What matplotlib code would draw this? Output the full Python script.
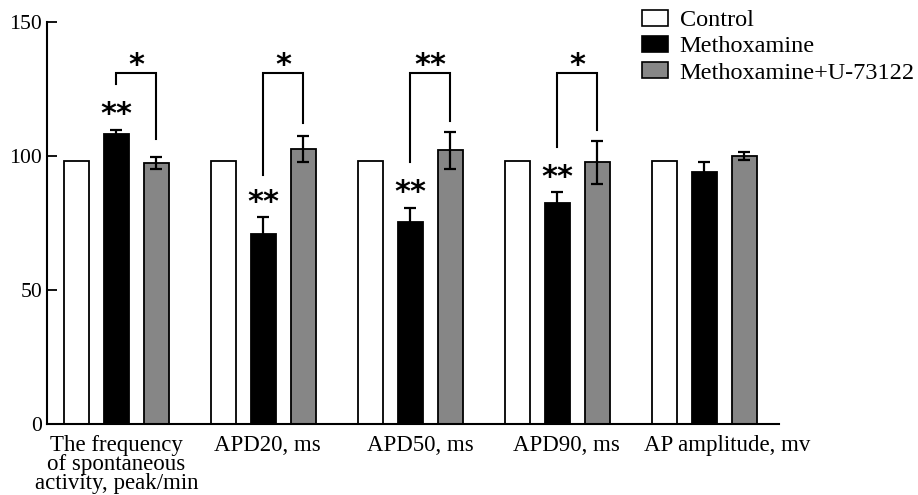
import matplotlib
matplotlib.use("Agg")
import matplotlib.pyplot as plt
from matplotlib.patches import Patch
import numpy as np

plt.rcParams['font.family'] = ['Liberation Serif', 'DejaVu Serif']

categories = ["The frequency\nof spontaneous\nactivity, peak/min", "APD20, ms",
              "APD50, ms", "APD90, ms", "AP amplitude, mv"]
series_names = ["Control", "Methoxamine", "Methoxamine+U-73122"]
control = [98, 98, 98, 98, 98]
metho = [108.2, 70.9, 75.3, 82.6, 94.2]
metho_err = [1.5, 6.2, 5.2, 4.0, 3.7]
u73 = [97.5, 102.7, 102.2, 97.6, 100.0]
u73_err = [2.2, 4.8, 6.9, 8.0, 1.6]

# significance vs control (above Methoxamine bar)
sig_ctrl = ["**", "**", "**", "**", ""]
sig_ctrl_y = [118.7, 85.8, 89.8, 95.4, 0]
# brackets Methoxamine vs Methoxamine+U-73122
sig_br = ["*", "*", "**", "*", ""]
br_left_bottom = [126.7, 92.9, 97.9, 103.2, 0]
br_right_bottom = [106.2, 112.2, 113.2, 109.7, 0]
br_top = 130.9
br_label_y = 137.0

yticks = [0, 50, 100, 150]

colors = ["white", "black", "#868686"]
offset = 0.272
width = 0.17

fig = plt.figure(figsize=(9.18, 4.95), dpi=100)
ax = fig.add_axes([47/918, 1-424/495, (779-47)/918, (424-22)/495])

x = np.arange(len(categories))
ax.bar(x - offset, control, width, color=colors[0], edgecolor="black", linewidth=1.3, zorder=2)
ax.bar(x, metho, width, color=colors[1], edgecolor="black", linewidth=1.3, zorder=2)
ax.bar(x + offset, u73, width, color=colors[2], edgecolor="black", linewidth=1.3, zorder=2)
ax.errorbar(x, metho, yerr=metho_err, fmt="none", ecolor="black", elinewidth=1.6,
            capsize=4.5, capthick=1.6, zorder=3)
ax.errorbar(x + offset, u73, yerr=u73_err, fmt="none", ecolor="black", elinewidth=1.6,
            capsize=4.5, capthick=1.6, zorder=3)

star_kw = dict(family="DejaVu Sans", fontweight="bold", fontsize=22, ha="center",
               va="baseline", textcoords="offset points")
for i in range(len(categories)):
    if sig_ctrl[i]:
        ax.annotate(sig_ctrl[i], xy=(x[i], sig_ctrl_y[i]), xytext=(0, -12.5), **star_kw)
    if sig_br[i]:
        xl, xr = x[i], x[i] + offset
        ax.plot([xl, xl, xr, xr], [br_left_bottom[i], br_top, br_top, br_right_bottom[i]],
                color="black", lw=1.5, solid_joinstyle="miter", zorder=3)
        ax.annotate(sig_br[i], xy=((xl + xr) / 2, br_label_y), xytext=(0, -12.5), **star_kw)

ax.set_xlim(-0.473, 4.51)
ax.set_ylim(0, 150)
ax.set_yticks(yticks)
ax.set_yticklabels([str(t) for t in yticks], fontsize=15.6)
ax.tick_params(axis="y", direction="in", length=7, width=1.3, pad=3.5)
label_shift = [0, 0.03, 0.07, 0.06, 0.16]
ax.set_xticks(x + np.array(label_shift))
ax.set_xticklabels(categories, fontsize=16.5, linespacing=0.86)
ax.tick_params(axis="x", length=0, pad=8)
for s in ["top", "right"]:
    ax.spines[s].set_visible(False)
for s in ["left", "bottom"]:
    ax.spines[s].set_linewidth(1.5)

handles = [Patch(facecolor=c, edgecolor="black", linewidth=1.2) for c in colors]
fig.legend(handles, series_names, loc="upper left", bbox_to_anchor=(642/918, 1-10/495),
           frameon=False, borderpad=0, fontsize=17.5, handlelength=1.05,
           handleheight=0.62, handletextpad=0.5, labelspacing=0.19, borderaxespad=0)

fig.savefig("out.png", dpi=100)
